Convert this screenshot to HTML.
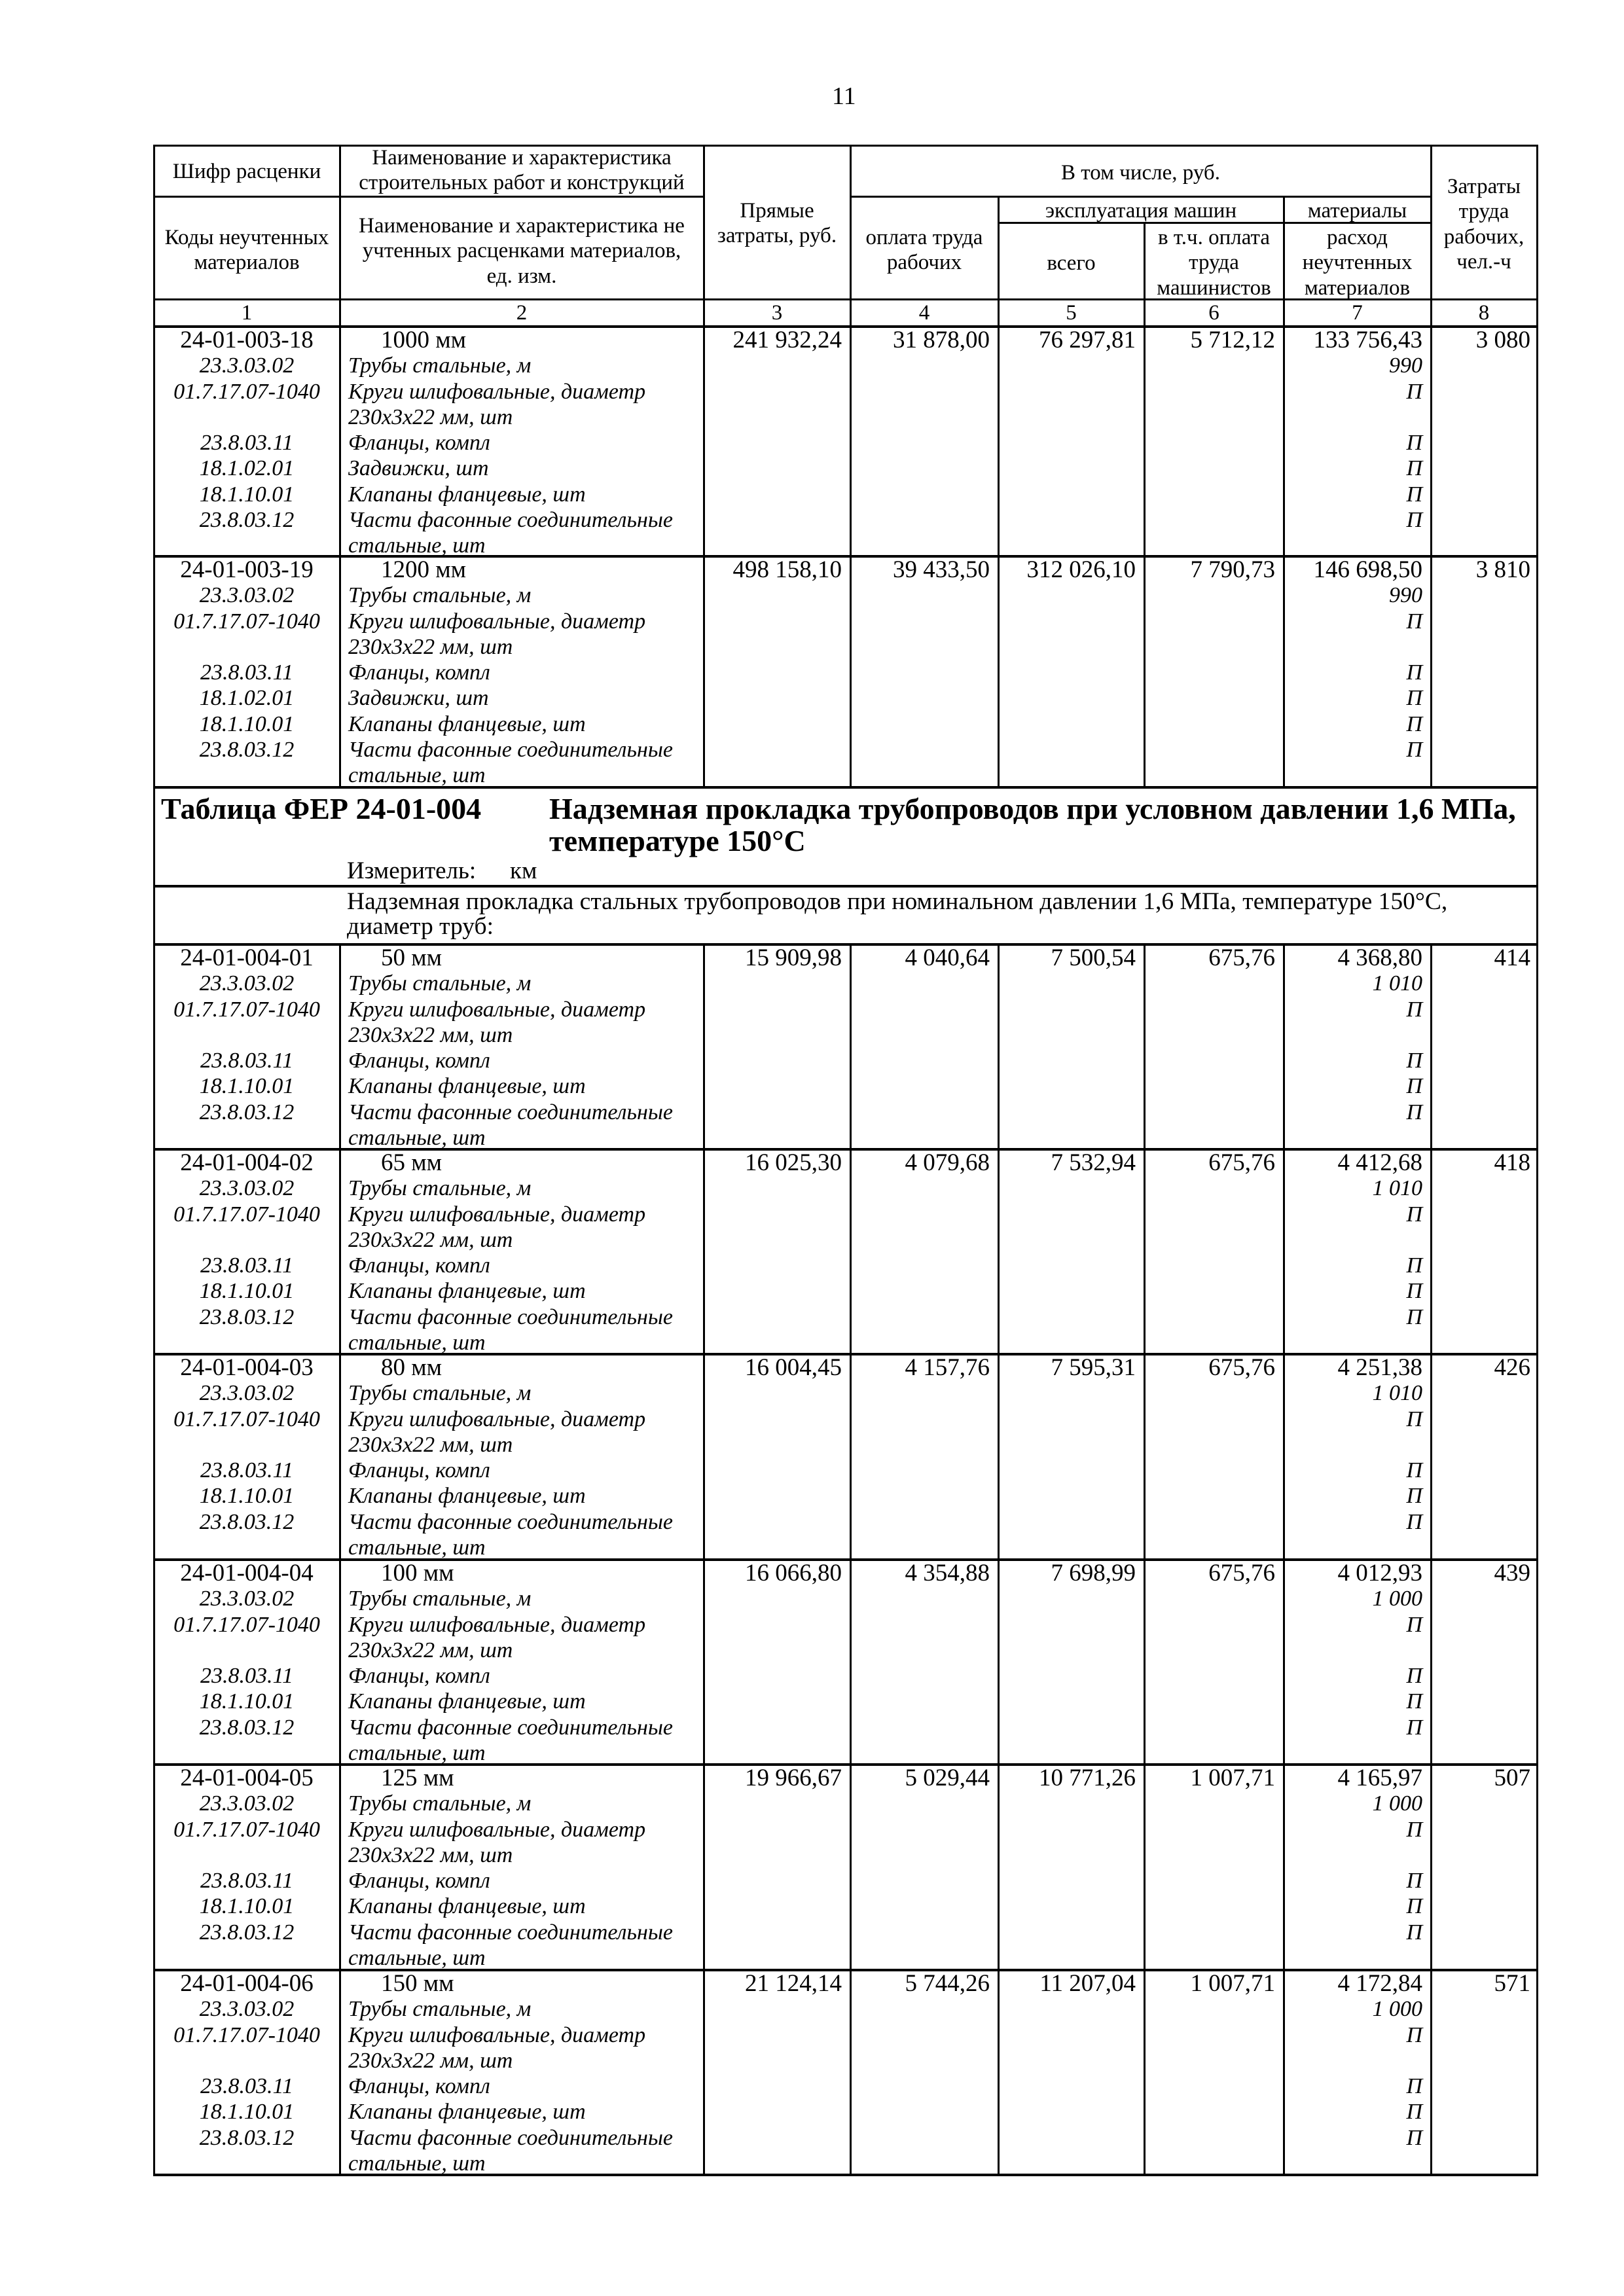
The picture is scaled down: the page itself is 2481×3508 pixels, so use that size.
<!DOCTYPE html>
<html><head><meta charset="utf-8"><style>
body{margin:0;background:#fff}
.p{position:relative;width:2481px;height:3508px;background:#fff;font-family:"Liberation Serif","DejaVu Serif",serif;color:#000;overflow:hidden}
.h,.v{position:absolute;background:#000}
.h{height:3px}.v{width:3px}
.t{position:absolute;font-size:37px;line-height:38.3px;white-space:nowrap}
.t i{font-size:34px}
.hd{font-size:33px}
.c{text-align:center}.r{text-align:right}
.b{font-weight:bold;font-size:46px;line-height:49px}
.ind{padding-left:50px}
</style></head><body><div class="p">
<div class="t" style="left:1271px;top:128px;font-size:38px">11</div>

<div class="h" style="left:235px;width:2115px;top:221px"></div>
<div class="h" style="left:235px;width:840px;top:299px"></div>
<div class="h" style="left:1299px;width:888px;top:299px"></div>
<div class="h" style="left:1525px;width:662px;top:339px"></div>
<div class="h" style="left:235px;width:2115px;top:456px"></div>
<div class="h" style="left:235px;width:2115px;top:497px;height:4px"></div>
<div class="h" style="left:235px;width:2115px;top:848px;height:4px"></div>
<div class="h" style="left:235px;width:2115px;top:1201px;height:4px"></div>
<div class="h" style="left:235px;width:2115px;top:1352px;height:4px"></div>
<div class="h" style="left:235px;width:2115px;top:1441px;height:4px"></div>
<div class="h" style="left:235px;width:2115px;top:1754px;height:4px"></div>
<div class="h" style="left:235px;width:2115px;top:2067px;height:4px"></div>
<div class="h" style="left:235px;width:2115px;top:2381px;height:4px"></div>
<div class="h" style="left:235px;width:2115px;top:2694px;height:4px"></div>
<div class="h" style="left:235px;width:2115px;top:3008px;height:4px"></div>
<div class="h" style="left:235px;width:2115px;top:3321px;height:4px"></div>

<div class="v" style="left:234px;top:221px;height:3104px"></div>
<div class="v" style="left:2347px;top:221px;height:3104px"></div>
<div class="v" style="left:518px;top:221px;height:981px"></div>
<div class="v" style="left:518px;top:1442px;height:1881px"></div>
<div class="v" style="left:1074px;top:221px;height:981px"></div>
<div class="v" style="left:1074px;top:1442px;height:1881px"></div>
<div class="v" style="left:1298px;top:221px;height:981px"></div>
<div class="v" style="left:1298px;top:1442px;height:1881px"></div>
<div class="v" style="left:1524px;top:299px;height:903px"></div>
<div class="v" style="left:1524px;top:1442px;height:1881px"></div>
<div class="v" style="left:1747px;top:339px;height:863px"></div>
<div class="v" style="left:1747px;top:1442px;height:1881px"></div>
<div class="v" style="left:1960px;top:299px;height:903px"></div>
<div class="v" style="left:1960px;top:1442px;height:1881px"></div>
<div class="v" style="left:2185px;top:221px;height:981px"></div>
<div class="v" style="left:2185px;top:1442px;height:1881px"></div>

<div class="t hd c" style="left:235px;width:284px;top:243px">Шифр расценки</div>
<div class="t hd c" style="left:519px;width:556px;top:222px">Наименование и характеристика<br>строительных работ и конструкций</div>
<div class="t hd c" style="left:235px;width:284px;top:344px">Коды неучтенных<br>материалов</div>
<div class="t hd c" style="left:519px;width:556px;top:326px">Наименование и характеристика не<br>учтенных расценками материалов,<br>ед. изм.</div>
<div class="t hd c" style="left:1075px;width:224px;top:303px">Прямые<br>затраты, руб.</div>
<div class="t hd c" style="left:1299px;width:887px;top:245px">В том числе, руб.</div>
<div class="t hd c" style="left:1299px;width:226px;top:344px">оплата труда<br>рабочих</div>
<div class="t hd c" style="left:1525px;width:436px;top:303px">эксплуатация машин</div>
<div class="t hd c" style="left:1525px;width:223px;top:383px">всего</div>
<div class="t hd c" style="left:1748px;width:213px;top:344px">в т.ч. оплата<br>труда<br>машинистов</div>
<div class="t hd c" style="left:1961px;width:225px;top:303px">материалы</div>
<div class="t hd c" style="left:1961px;width:225px;top:344px">расход<br>неучтенных<br>материалов</div>
<div class="t hd c" style="left:2186px;width:162px;top:266px">Затраты<br>труда<br>рабочих,<br>чел.-ч</div>

<div class="t hd c" style="left:235px;width:284px;top:459px">1</div>
<div class="t hd c" style="left:519px;width:556px;top:459px">2</div>
<div class="t hd c" style="left:1075px;width:224px;top:459px">3</div>
<div class="t hd c" style="left:1299px;width:226px;top:459px">4</div>
<div class="t hd c" style="left:1525px;width:223px;top:459px">5</div>
<div class="t hd c" style="left:1748px;width:213px;top:459px">6</div>
<div class="t hd c" style="left:1961px;width:225px;top:459px">7</div>
<div class="t hd c" style="left:2186px;width:162px;top:459px">8</div>

<div class="t c" style="left:235px;width:284px;top:501px">24-01-003-18<br><i>23.3.03.02<br>01.7.17.07-1040<br>&nbsp;<br>23.8.03.11<br>18.1.02.01<br>18.1.10.01<br>23.8.03.12</i></div>
<div class="t" style="left:532px;top:501px"><span class="ind">1000 мм</span><br><i>Трубы стальные, м<br>Круги шлифовальные, диаметр<br>230х3х22 мм, шт<br>Фланцы, компл<br>Задвижки, шт<br>Клапаны фланцевые, шт<br>Части фасонные соединительные<br>стальные, шт</i></div>
<div class="t r" style="left:1075px;width:211px;top:501px">241 932,24</div>
<div class="t r" style="left:1299px;width:213px;top:501px">31 878,00</div>
<div class="t r" style="left:1525px;width:210px;top:501px">76 297,81</div>
<div class="t r" style="left:1748px;width:200px;top:501px">5 712,12</div>
<div class="t r" style="left:1961px;width:212px;top:501px">133 756,43<br><i>990<br>П<br>&nbsp;<br>П<br>П<br>П<br>П</i></div>
<div class="t r" style="left:2186px;width:152px;top:501px">3 080</div>

<div class="t c" style="left:235px;width:284px;top:852px">24-01-003-19<br><i>23.3.03.02<br>01.7.17.07-1040<br>&nbsp;<br>23.8.03.11<br>18.1.02.01<br>18.1.10.01<br>23.8.03.12</i></div>
<div class="t" style="left:532px;top:852px"><span class="ind">1200 мм</span><br><i>Трубы стальные, м<br>Круги шлифовальные, диаметр<br>230х3х22 мм, шт<br>Фланцы, компл<br>Задвижки, шт<br>Клапаны фланцевые, шт<br>Части фасонные соединительные<br>стальные, шт</i></div>
<div class="t r" style="left:1075px;width:211px;top:852px">498 158,10</div>
<div class="t r" style="left:1299px;width:213px;top:852px">39 433,50</div>
<div class="t r" style="left:1525px;width:210px;top:852px">312 026,10</div>
<div class="t r" style="left:1748px;width:200px;top:852px">7 790,73</div>
<div class="t r" style="left:1961px;width:212px;top:852px">146 698,50<br><i>990<br>П<br>&nbsp;<br>П<br>П<br>П<br>П</i></div>
<div class="t r" style="left:2186px;width:152px;top:852px">3 810</div>

<div class="t b" style="left:246px;top:1211px">Таблица ФЕР 24-01-004</div>
<div class="t b" style="left:839px;top:1211px">Надземная прокладка трубопроводов при условном давлении 1,6 МПа,<br>температуре 150°С</div>
<div class="t" style="left:530px;top:1312px">Измеритель:</div>
<div class="t" style="left:779px;top:1312px">км</div>
<div class="t" style="left:530px;top:1359px;font-size:37.5px">Надземная прокладка стальных трубопроводов при номинальном давлении 1,6 МПа, температуре 150°С,<br>диаметр труб:</div>

<div class="t c" style="left:235px;width:284px;top:1445px">24-01-004-01<br><i>23.3.03.02<br>01.7.17.07-1040<br>&nbsp;<br>23.8.03.11<br>18.1.10.01<br>23.8.03.12</i></div>
<div class="t" style="left:532px;top:1445px"><span class="ind">50 мм</span><br><i>Трубы стальные, м<br>Круги шлифовальные, диаметр<br>230х3х22 мм, шт<br>Фланцы, компл<br>Клапаны фланцевые, шт<br>Части фасонные соединительные<br>стальные, шт</i></div>
<div class="t r" style="left:1075px;width:211px;top:1445px">15 909,98</div>
<div class="t r" style="left:1299px;width:213px;top:1445px">4 040,64</div>
<div class="t r" style="left:1525px;width:210px;top:1445px">7 500,54</div>
<div class="t r" style="left:1748px;width:200px;top:1445px">675,76</div>
<div class="t r" style="left:1961px;width:212px;top:1445px">4 368,80<br><i>1 010<br>П<br>&nbsp;<br>П<br>П<br>П</i></div>
<div class="t r" style="left:2186px;width:152px;top:1445px">414</div>

<div class="t c" style="left:235px;width:284px;top:1758px">24-01-004-02<br><i>23.3.03.02<br>01.7.17.07-1040<br>&nbsp;<br>23.8.03.11<br>18.1.10.01<br>23.8.03.12</i></div>
<div class="t" style="left:532px;top:1758px"><span class="ind">65 мм</span><br><i>Трубы стальные, м<br>Круги шлифовальные, диаметр<br>230х3х22 мм, шт<br>Фланцы, компл<br>Клапаны фланцевые, шт<br>Части фасонные соединительные<br>стальные, шт</i></div>
<div class="t r" style="left:1075px;width:211px;top:1758px">16 025,30</div>
<div class="t r" style="left:1299px;width:213px;top:1758px">4 079,68</div>
<div class="t r" style="left:1525px;width:210px;top:1758px">7 532,94</div>
<div class="t r" style="left:1748px;width:200px;top:1758px">675,76</div>
<div class="t r" style="left:1961px;width:212px;top:1758px">4 412,68<br><i>1 010<br>П<br>&nbsp;<br>П<br>П<br>П</i></div>
<div class="t r" style="left:2186px;width:152px;top:1758px">418</div>

<div class="t c" style="left:235px;width:284px;top:2071px">24-01-004-03<br><i>23.3.03.02<br>01.7.17.07-1040<br>&nbsp;<br>23.8.03.11<br>18.1.10.01<br>23.8.03.12</i></div>
<div class="t" style="left:532px;top:2071px"><span class="ind">80 мм</span><br><i>Трубы стальные, м<br>Круги шлифовальные, диаметр<br>230х3х22 мм, шт<br>Фланцы, компл<br>Клапаны фланцевые, шт<br>Части фасонные соединительные<br>стальные, шт</i></div>
<div class="t r" style="left:1075px;width:211px;top:2071px">16 004,45</div>
<div class="t r" style="left:1299px;width:213px;top:2071px">4 157,76</div>
<div class="t r" style="left:1525px;width:210px;top:2071px">7 595,31</div>
<div class="t r" style="left:1748px;width:200px;top:2071px">675,76</div>
<div class="t r" style="left:1961px;width:212px;top:2071px">4 251,38<br><i>1 010<br>П<br>&nbsp;<br>П<br>П<br>П</i></div>
<div class="t r" style="left:2186px;width:152px;top:2071px">426</div>

<div class="t c" style="left:235px;width:284px;top:2385px">24-01-004-04<br><i>23.3.03.02<br>01.7.17.07-1040<br>&nbsp;<br>23.8.03.11<br>18.1.10.01<br>23.8.03.12</i></div>
<div class="t" style="left:532px;top:2385px"><span class="ind">100 мм</span><br><i>Трубы стальные, м<br>Круги шлифовальные, диаметр<br>230х3х22 мм, шт<br>Фланцы, компл<br>Клапаны фланцевые, шт<br>Части фасонные соединительные<br>стальные, шт</i></div>
<div class="t r" style="left:1075px;width:211px;top:2385px">16 066,80</div>
<div class="t r" style="left:1299px;width:213px;top:2385px">4 354,88</div>
<div class="t r" style="left:1525px;width:210px;top:2385px">7 698,99</div>
<div class="t r" style="left:1748px;width:200px;top:2385px">675,76</div>
<div class="t r" style="left:1961px;width:212px;top:2385px">4 012,93<br><i>1 000<br>П<br>&nbsp;<br>П<br>П<br>П</i></div>
<div class="t r" style="left:2186px;width:152px;top:2385px">439</div>

<div class="t c" style="left:235px;width:284px;top:2698px">24-01-004-05<br><i>23.3.03.02<br>01.7.17.07-1040<br>&nbsp;<br>23.8.03.11<br>18.1.10.01<br>23.8.03.12</i></div>
<div class="t" style="left:532px;top:2698px"><span class="ind">125 мм</span><br><i>Трубы стальные, м<br>Круги шлифовальные, диаметр<br>230х3х22 мм, шт<br>Фланцы, компл<br>Клапаны фланцевые, шт<br>Части фасонные соединительные<br>стальные, шт</i></div>
<div class="t r" style="left:1075px;width:211px;top:2698px">19 966,67</div>
<div class="t r" style="left:1299px;width:213px;top:2698px">5 029,44</div>
<div class="t r" style="left:1525px;width:210px;top:2698px">10 771,26</div>
<div class="t r" style="left:1748px;width:200px;top:2698px">1 007,71</div>
<div class="t r" style="left:1961px;width:212px;top:2698px">4 165,97<br><i>1 000<br>П<br>&nbsp;<br>П<br>П<br>П</i></div>
<div class="t r" style="left:2186px;width:152px;top:2698px">507</div>

<div class="t c" style="left:235px;width:284px;top:3012px">24-01-004-06<br><i>23.3.03.02<br>01.7.17.07-1040<br>&nbsp;<br>23.8.03.11<br>18.1.10.01<br>23.8.03.12</i></div>
<div class="t" style="left:532px;top:3012px"><span class="ind">150 мм</span><br><i>Трубы стальные, м<br>Круги шлифовальные, диаметр<br>230х3х22 мм, шт<br>Фланцы, компл<br>Клапаны фланцевые, шт<br>Части фасонные соединительные<br>стальные, шт</i></div>
<div class="t r" style="left:1075px;width:211px;top:3012px">21 124,14</div>
<div class="t r" style="left:1299px;width:213px;top:3012px">5 744,26</div>
<div class="t r" style="left:1525px;width:210px;top:3012px">11 207,04</div>
<div class="t r" style="left:1748px;width:200px;top:3012px">1 007,71</div>
<div class="t r" style="left:1961px;width:212px;top:3012px">4 172,84<br><i>1 000<br>П<br>&nbsp;<br>П<br>П<br>П</i></div>
<div class="t r" style="left:2186px;width:152px;top:3012px">571</div>
</div></body></html>
